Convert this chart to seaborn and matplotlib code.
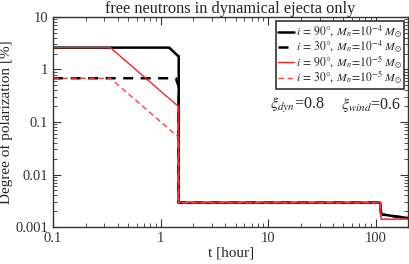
import numpy as np
import pandas as pd
import seaborn as sns
from matplotlib import pyplot as plt

# time [hour] and degree of polarization [%] for each model
t_bs = [0.1, 1.2, 1.43, 1.45, 1.47, 1.47, 110, 112, 150, 200]
p_bs = [2.6, 2.6, 1.85, 1.8, 1.8, 0.0029, 0.0029, 0.00175, 0.0016, 0.00148]

t_bd = [0.1, 1.38, 1.45, 1.47, 1.47, 110, 112, 150, 200]
p_bd = [0.68, 0.68, 0.51, 0.5, 0.0029, 0.0029, 0.00175, 0.0016, 0.00148]

t_rs = [0.1, 0.34, 1.45, 1.47, 1.47, 110, 112, 200]
p_rs = [2.6, 2.6, 0.2, 0.2, 0.0029, 0.0029, 0.00141, 0.00141]

t_rd = [0.1, 0.34, 1.45, 1.47, 1.47, 110, 112, 200]
p_rd = [0.68, 0.68, 0.052, 0.05, 0.0029, 0.0029, 0.00141, 0.00141]

labels = [r'$i\,=\,90°,\;M_n\!=\!10^{-4}\;M_{\odot}$',
          r'$i\,=\,30°,\;M_n\!=\!10^{-4}\;M_{\odot}$',
          r'$i\,=\,90°,\;M_n\!=\!10^{-5}\;M_{\odot}$',
          r'$i\,=\,30°,\;M_n\!=\!10^{-5}\;M_{\odot}$']

sns.set_style('ticks')
plt.rcParams['font.family'] = ['Liberation Serif', 'DejaVu Serif']
plt.rcParams['mathtext.fontset'] = 'stix'

fig = plt.figure(figsize=(4.09, 2.64), dpi=100)
ax = fig.add_axes([0.130, 0.140, 0.868, 0.796])

styles = [('black', '-', 1.8), ('black', (0, (4, 3)), 1.8),
          ('#ff2020', '-', 1.0), ('#ff4040', (0, (4, 2.5)), 1.0)]
for (t, p), lab, (c, ls, lw) in zip([(t_bs, p_bs), (t_bd, p_bd), (t_rs, p_rs), (t_rd, p_rd)], labels, styles):
    df = pd.DataFrame({'t': t, 'p': p})
    sns.lineplot(data=df, x='t', y='p', ax=ax, color=c, linestyle=ls, linewidth=lw,
                 sort=False, estimator=None, label=lab)

ax.set_xscale('log')
ax.set_yscale('log')
ax.set_xlim(0.1, 200)
ax.set_ylim(0.001, 10)
ax.set_xticks([0.1, 1, 10, 100])
ax.set_xticklabels(['0.1', '1', '10', '100'])
ax.set_yticks([0.001, 0.01, 0.1, 1, 10])
ax.set_yticklabels(['0.001', '0.01', '0.1', '1', '10'])
ax.tick_params(which='both', direction='in', top=True, right=True, labelsize=10.5, colors='#333333')
ax.tick_params(which='major', length=6)
ax.tick_params(which='minor', length=3)
for s in ax.spines.values():
    s.set_color('#333333')
    s.set_linewidth(1.0)

ax.set_xlabel('t [hour]', fontsize=11, labelpad=1)
ax.set_ylabel('Degree of polarization [%]', fontsize=11, labelpad=2)
ax.set_title('free neutrons in dynamical ejecta only', fontsize=11.8, pad=3)

leg = ax.legend(loc='upper right', fontsize=8.5, frameon=True, fancybox=False,
                handlelength=1.3, handletextpad=0.15, borderpad=0.2, labelspacing=-0.12,
                borderaxespad=0.35)
leg.get_frame().set_edgecolor('#333333')
leg.get_frame().set_linewidth(1.2)
leg.get_frame().set_alpha(1)

ax.text(0.611, 0.56, r'$\xi_{dyn}$=0.8', transform=ax.transAxes, fontsize=11.5)
ax.text(0.812, 0.56, r'$\xi_{wind}$=0.6', transform=ax.transAxes, fontsize=11.5)

fig.savefig('out.png', dpi=100)
